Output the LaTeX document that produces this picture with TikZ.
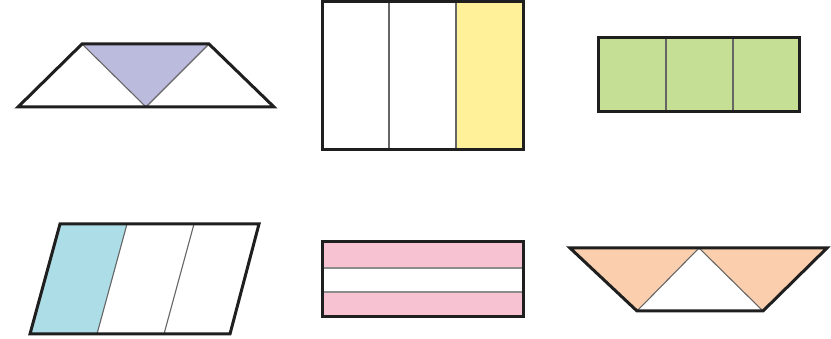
\documentclass[tikz,border=0pt]{standalone}
\usepackage{tikz}
\usetikzlibrary{calc}
\definecolor{lilac}{RGB}{187,187,221}
\definecolor{lemon}{RGB}{255,240,154}
\definecolor{leaf}{RGB}{197,223,149}
\definecolor{sky}{RGB}{173,221,231}
\definecolor{rose}{RGB}{247,195,210}
\definecolor{peach}{RGB}{251,207,173}

\begin{document}
\begin{tikzpicture}[
    x=1pt, y=-1pt,
    outline/.style={draw=black!88, line width=3pt},
    part/.style={draw=black!60, line width=1.1pt}
  ]
  \useasboundingbox (0,0) rectangle (831,339);

  % Trapezoid, middle triangle shaded
  \fill[lilac] (82,44) -- (209,44) -- (146,107) -- cycle;
  \draw[part] (82,44) -- (146,107) -- (209,44);
  \draw[outline] (82,44) -- (209,44) -- (274,107) -- (18,107) -- cycle;

  % Rectangle in three columns, last one shaded
  \fill[lemon] (456,2) rectangle (523,150);
  \draw[part] (389,2) -- (389,150) (456,2) -- (456,150);
  \draw[outline] (322,2) rectangle (523,150);

  % Rectangle in three squares, all shaded
  \fill[leaf] (598,38) rectangle (799,112);
  \draw[part] (666,38) -- (666,112) (733,38) -- (733,112);
  \draw[outline] (598,38) rectangle (799,112);

  % Parallelogram in three parts, first one shaded
  \fill[sky] (60,224) -- (127,224) -- (97,334) -- (30,334) -- cycle;
  \draw[part] (127,224) -- (97,334) (194,224) -- (164,334);
  \draw[outline] (60,224) -- (259,224) -- (230,334) -- (30,334) -- cycle;

  % Rectangle in three stripes, outer ones shaded
  \fill[rose] (322,242) rectangle (523,268);
  \fill[rose] (322,292) rectangle (523,317);
  \draw[part, draw=black!45] (322,268) -- (523,268) (322,292) -- (523,292);
  \draw[outline] (322,242) rectangle (523,317);

  % Inverted trapezoid, outer triangles shaded
  \fill[peach] (570,248) -- (699,248) -- (637,311) -- cycle;
  \fill[peach] (699,248) -- (827,248) -- (763,311) -- cycle;
  \draw[part] (637,311) -- (699,248) -- (763,311);
  \draw[outline] (570,248) -- (827,248) -- (763,311) -- (637,311) -- cycle;
\end{tikzpicture}
\end{document}
